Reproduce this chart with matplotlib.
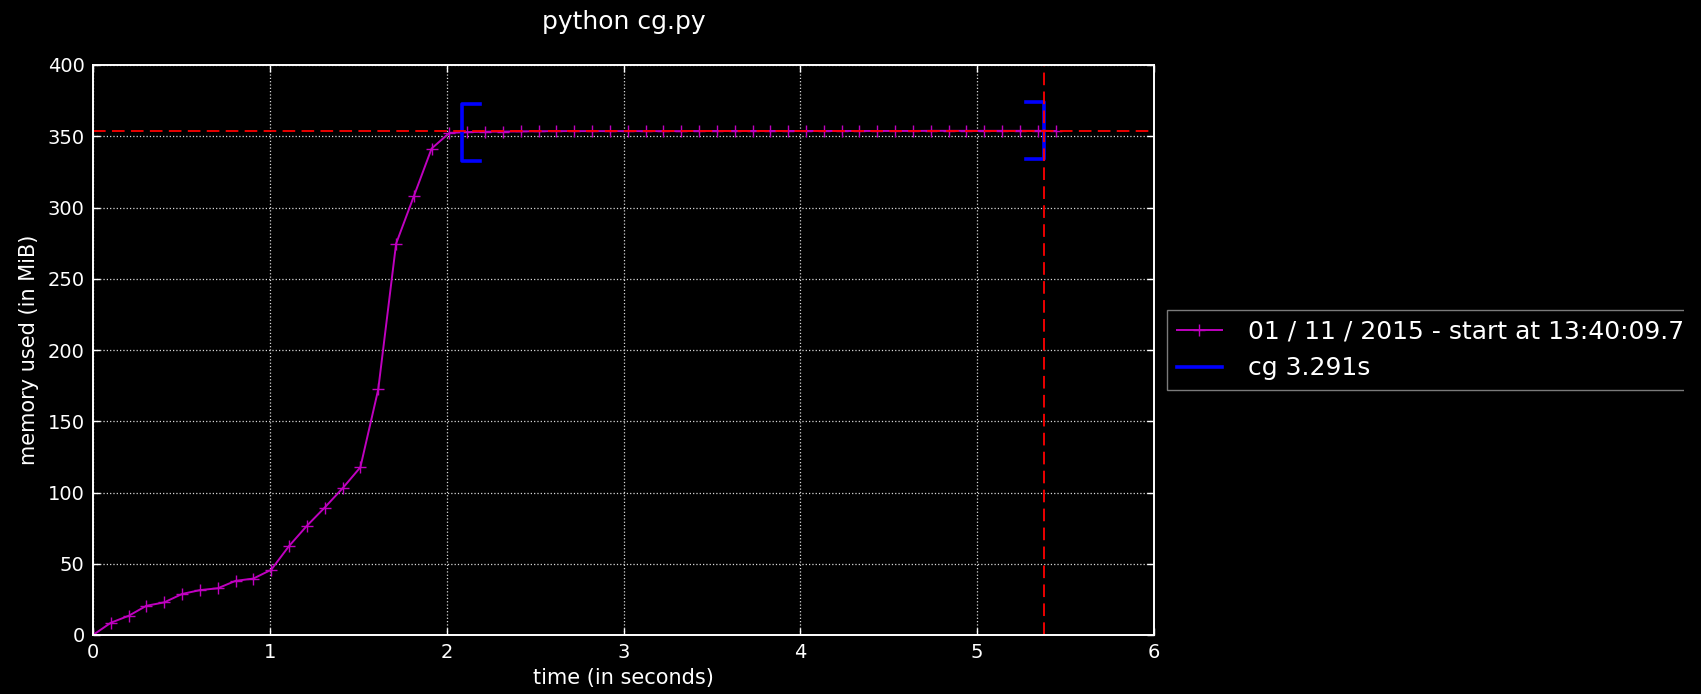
import matplotlib
matplotlib.use("Agg")
import matplotlib.pyplot as plt
import numpy as np
from matplotlib.patches import Rectangle

# samples taken by the profiler (seconds, MiB)
times = [
    0.000, 0.101, 0.202, 0.302, 0.403, 0.504, 0.605, 0.706, 0.806, 0.907,
    1.008, 1.109, 1.210, 1.310, 1.411, 1.512, 1.613, 1.714, 1.814, 1.915,
    2.016, 2.117, 2.218, 2.318, 2.419, 2.520, 2.621, 2.722, 2.822, 2.923,
    3.024, 3.125, 3.226, 3.326, 3.427, 3.528, 3.629, 3.730, 3.830, 3.931,
    4.032, 4.133, 4.234, 4.334, 4.435, 4.536, 4.637, 4.738, 4.838, 4.939,
    5.040, 5.141, 5.242, 5.342, 5.443,
]
memory = [
    0.0, 8.6, 13.5, 20.5, 22.9, 28.8, 31.5, 32.8, 38.0, 39.6,
    45.8, 62.5, 76.7, 89.4, 102.9, 117.7, 172.3, 274.6, 307.8, 341.4,
    352.4, 352.9, 353.2, 353.3, 353.4, 353.5, 353.6, 353.6, 353.6, 353.6,
    353.6, 353.6, 353.6, 353.6, 353.7, 353.7, 353.7, 353.7, 353.7, 353.7,
    353.7, 353.7, 353.7, 353.7, 353.7, 353.7, 353.7, 353.8, 353.8, 353.8,
    353.8, 353.8, 353.8, 353.8, 353.7,
]
peak_time = 5.38
peak_mem = 353.9

func_name = "cg"
func_start = (2.086, 352.5)   # (time, memory) at entry
func_end = (5.377, 353.9)     # (time, memory) at exit

run_label = "01 / 11 / 2015 - start at 13:40:09.71"
title = "python cg.py"
xlim = (0, 6)
ylim = (0, 400)

plt.style.use("dark_background")
plt.rcParams["font.family"] = ["DejaVu Sans"]

fig = plt.figure(figsize=(17.01, 6.94), dpi=100)
ax = fig.add_axes([93 / 1701, 59 / 694, 1061 / 1701, 570 / 694])

ax.plot(times, memory, "+-", color=(0.75, 0, 0.75), lw=1.4, ms=9, mew=1.0,
        label=run_label)

# brackets marking function entry / exit
vsize = (ylim[1] - ylim[0]) / 20.0
hsize = (xlim[1] - xlim[0]) / 60.0
bx = np.array([hsize, 0, 0, hsize])
by = np.array([vsize, vsize, -vsize, -vsize])
dur = func_end[0] - func_start[0]
ax.plot(bx + func_start[0], by + func_start[1], "-", color="#0000ff", lw=2.6,
        label=f"{func_name} {dur:.3f}s")
ax.plot(-bx + func_end[0], by + func_end[1], "-", color="#0000ff", lw=2.6)

dash = (0, (7, 3.5))
ax.hlines(peak_mem, xlim[0] + 0.001, xlim[1] - 0.001, colors="r",
          linestyles=[dash], lw=1.3)
ax.vlines(peak_time, ylim[0] + 0.001, ylim[1] - 0.001, colors="r",
          linestyles=[dash], lw=1.3)

ax.set_xlim(*xlim)
ax.set_ylim(*ylim)
ax.set_xticks(range(0, 7))
ax.set_yticks(range(0, 401, 50))
ax.grid(True, ls=":", color="0.85", lw=0.9)
ax.tick_params(direction="in", top=True, right=True, labelsize=14,
               length=5, width=1, pad=6)
for sp in ax.spines.values():
    sp.set_color("white")
    sp.set_linewidth(1.4)

ax.set_xlabel("time (in seconds)", fontsize=15, labelpad=4)
ax.set_ylabel("memory used (in MiB)", fontsize=15, labelpad=6)
ax.set_title(title, fontsize=18, pad=26)

leg = ax.legend(loc="center left", bbox_to_anchor=(1, 0.5), fontsize=18,
                fancybox=False, handlelength=1.8, handletextpad=1.06,
                borderaxespad=0.5)
leg.get_frame().set_edgecolor("0.6")
leg.get_frame().set_facecolor("black")

# the original capture is cut off just past the legend text
fig.patches.append(Rectangle((1684 / 1701, 0), 1, 1, transform=fig.transFigure,
                             facecolor="black", edgecolor="none", zorder=10))

fig.savefig("out.png", dpi=100, facecolor="black")
